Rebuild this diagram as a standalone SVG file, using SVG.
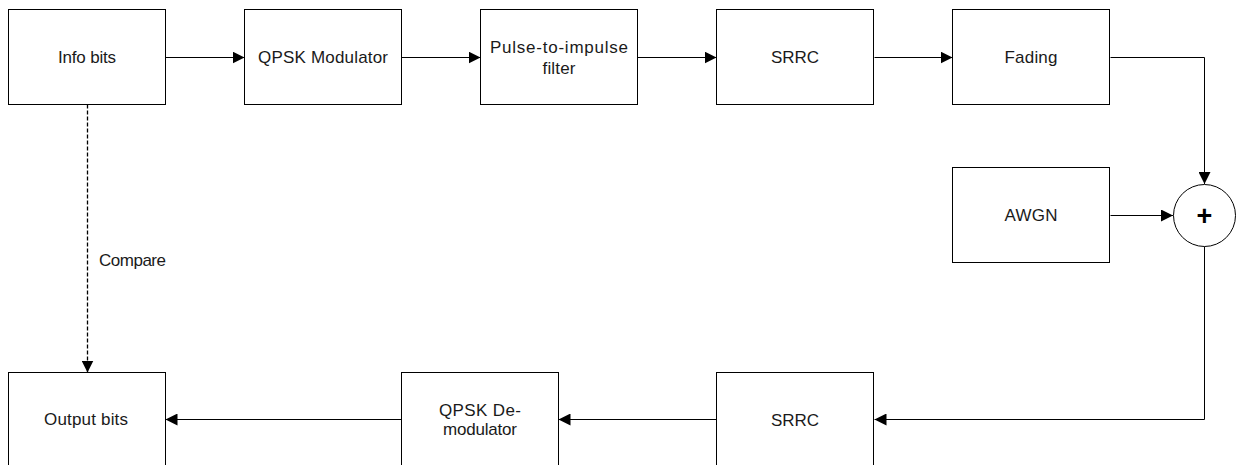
<svg xmlns="http://www.w3.org/2000/svg" width="1237" height="465" viewBox="0 0 1237 465">
<style>
.box{fill:#fff;stroke:#000;stroke-width:1}
.lbl{font-family:"Liberation Sans",Arial,sans-serif;font-size:17px;fill:#1a1a1a;text-anchor:middle}
.cl{fill:none;stroke:#000;stroke-width:1}
.dash{stroke-dasharray:4,2;stroke-width:1.3}
</style>
<defs>
<marker id="arr" markerUnits="userSpaceOnUse" markerWidth="12" markerHeight="12" refX="12" refY="6" orient="auto">
<path d="M0,0 L12,6 L0,12 z" fill="#000"/>
</marker>
</defs>
<rect width="1237" height="465" fill="#fff"/>
<g id="connectors">
<path class="cl" d="M165.5,57.5 H244.5" marker-end="url(#arr)"/>
<path class="cl" d="M401.5,57.5 H480.5" marker-end="url(#arr)"/>
<path class="cl" d="M637.5,57.5 H716.5" marker-end="url(#arr)"/>
<path class="cl" d="M874.5,57.5 H952.5" marker-end="url(#arr)"/>
<path class="cl" d="M1110.5,57.5 H1204.5 V184" marker-end="url(#arr)"/>
<path class="cl" d="M1110.5,215.5 H1173" marker-end="url(#arr)"/>
<path class="cl" d="M1204.5,246.5 V419.5 H874.5" marker-end="url(#arr)"/>
<path class="cl" d="M716.5,419.5 H558.5" marker-end="url(#arr)"/>
<path class="cl" d="M401.5,419.5 H165.5" marker-end="url(#arr)"/>
<path class="cl dash" d="M87.5,104.5 V372.5" marker-end="url(#arr)"/>
<text class="lbl" x="99" y="265.5" style="text-anchor:start" textLength="67" lengthAdjust="spacing">Compare</text>
</g>
<g id="info-bits">
<rect class="box" x="8.5" y="9.5" width="157" height="95"/>
<text class="lbl" x="87" y="62.5" textLength="58" lengthAdjust="spacing">Info bits</text>
</g>
<g id="qpsk-mod">
<rect class="box" x="244.5" y="9.5" width="157" height="95"/>
<text class="lbl" x="323" y="62.5" textLength="130" lengthAdjust="spacing">QPSK Modulator</text>
</g>
<g id="pulse">
<rect class="box" x="480.5" y="9.5" width="157" height="95"/>
<text class="lbl" x="559" y="53" textLength="138" lengthAdjust="spacing">Pulse-to-impulse</text>
<text class="lbl" x="559" y="73.5" textLength="33" lengthAdjust="spacing">filter</text>
</g>
<g id="srrc-tx">
<rect class="box" x="716.5" y="9.5" width="157" height="95"/>
<text class="lbl" x="795" y="62.5" textLength="48" lengthAdjust="spacing">SRRC</text>
</g>
<g id="fading">
<rect class="box" x="952.5" y="9.5" width="157" height="95"/>
<text class="lbl" x="1031" y="62.5" textLength="53" lengthAdjust="spacing">Fading</text>
</g>
<g id="awgn">
<rect class="box" x="952.5" y="167.5" width="157" height="95"/>
<text class="lbl" x="1031" y="220.5" textLength="53" lengthAdjust="spacing">AWGN</text>
</g>
<g id="adder">
<circle cx="1204.5" cy="215.5" r="31" fill="#fff" stroke="#000" stroke-width="1"/>
<text x="1204.5" y="225" style="font-family:'Liberation Sans',Arial,sans-serif;font-size:27px;font-weight:bold;text-anchor:middle;fill:#000">+</text>
</g>
<g id="output-bits">
<rect class="box" x="8.5" y="372.5" width="157" height="95"/>
<text class="lbl" x="86" y="425" textLength="84" lengthAdjust="spacing">Output bits</text>
</g>
<g id="qpsk-demod">
<rect class="box" x="401.5" y="372.5" width="157" height="95"/>
<text class="lbl" x="480" y="415.5" textLength="82" lengthAdjust="spacing">QPSK De-</text>
<text class="lbl" x="480" y="435" textLength="74" lengthAdjust="spacing">modulator</text>
</g>
<g id="srrc-rx">
<rect class="box" x="716.5" y="372.5" width="157" height="95"/>
<text class="lbl" x="795" y="425.5" textLength="48" lengthAdjust="spacing">SRRC</text>
</g>
</svg>
